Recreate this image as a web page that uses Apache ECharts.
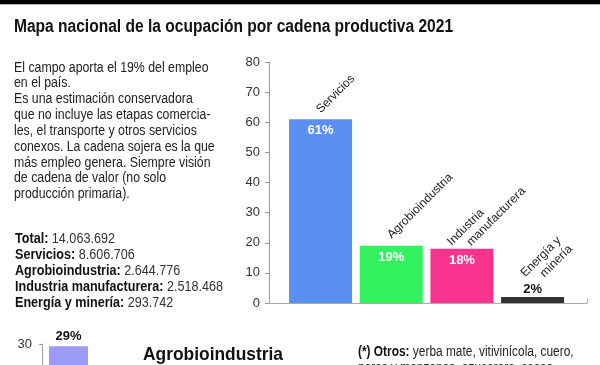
<!DOCTYPE html>
<html><head><meta charset="utf-8">
<script src="https://cdn.jsdelivr.net/npm/echarts@6/dist/echarts.min.js"></script>
<style>html,body{margin:0;padding:0;background:#fff}#c{width:600px;height:365px}</style>
</head><body><div id="c"></div>
<script>
// ---- data ----
const titleText = 'Mapa nacional de la ocupación por cadena productiva 2021';
const introLines = [
  'El campo aporta el 19% del empleo',
  'en el país.',
  'Es una estimación conservadora',
  'que no incluye las etapas comercia-',
  'les, el transporte y otros servicios',
  'conexos. La cadena sojera es la que',
  'más empleo genera. Siempre visión',
  'de cadena de valor (no solo',
  'producción primaria).'
];
const statLabels = ['Total', 'Servicios', 'Agrobioindustria', 'Industria manufacturera', 'Energía y minería'];
const statValues = [14063692, 8606706, 2644776, 2518468, 293742];
const categories = ['Servicios', 'Agrobioindustria', 'Industria manufacturera', 'Energía y minería'];
const categoryLabels = ['Servicios', 'Agrobioindustria', 'Industria\n    manufacturera', 'Energía y\n    minería'];
const shares = [61, 19, 18, 2];
const yMin = 0, yMax = 80, yStep = 10;
const agroTitle = 'Agrobioindustria';
const agroShares = [29];
const agroYMax = 30;
const noteLead = '(*) Otros:';
const noteLines = ['yerba mate, vitivinícola, cuero,', 'peras y manzanas, azucarera, cacao,'];

// ---- styles ----
const barColors = ['#5b8ff3', '#34f25f', '#f8348f', '#333333'];
const agroColor = '#9b9bf6';
const SANS = "'Liberation Sans', Arial, sans-serif";
const nameOffsets = [[4.1, -0.2], [5.1, -0.6], [-5.1, 8.5], [8.7, -1.4]];

function fmt(n) { return String(n).replace(/\B(?=(\d{3})+(?!\d))/g, '.'); }

const chart = echarts.init(document.getElementById('c'), null, { renderer: 'canvas' });

const option = {
  animation: false,
  backgroundColor: '#fff',
  grid: [
    { left: 269, right: 13, top: 62, bottom: 62 },
    { left: 42, width: 53, top: 344, bottom: -240 }
  ],
  xAxis: [
    { type: 'value', gridIndex: 0, min: -0.73, max: 3.77, interval: 4.5,
      axisLine: { show: true, onZero: false, lineStyle: { color: '#aaa', width: 1 } },
      axisTick: { show: true, inside: true, length: 4, lineStyle: { color: '#aaa' } },
      axisLabel: { show: false }, splitLine: { show: false } },
    { type: 'value', gridIndex: 1, min: -0.5, max: 0.5, show: false }
  ],
  yAxis: [
    { type: 'value', gridIndex: 0, min: yMin, max: yMax, interval: yStep,
      axisLine: { show: true, onZero: false, lineStyle: { color: '#999' } },
      axisTick: { show: true, length: 4, lineStyle: { color: '#999' } },
      axisLabel: { fontSize: 13, color: '#333', margin: 9, fontFamily: SANS },
      splitLine: { show: false } },
    { type: 'value', gridIndex: 1, min: 0, max: agroYMax, interval: agroYMax,
      axisLine: { show: true, onZero: false, lineStyle: { color: '#999' } },
      axisTick: { show: true, length: 3, lineStyle: { color: '#999' } },
      axisLabel: { fontSize: 13, color: '#333', margin: 10, fontFamily: SANS, showMinLabel: false },
      splitLine: { show: false } }
  ],
  series: [
    {
      type: 'bar', name: 'names', xAxisIndex: 0, yAxisIndex: 0, barWidth: 63, silent: true,
      itemStyle: { color: 'rgba(0,0,0,0)' },
      data: shares.map((v, i) => ({ value: [i, v], label: { offset: nameOffsets[i] } })),
      label: {
        show: true, position: 'top', distance: 0, rotate: 45, align: 'left', verticalAlign: 'bottom',
        fontSize: 12, lineHeight: 14, color: '#222', fontFamily: SANS,
        formatter: p => categoryLabels[p.dataIndex]
      },
      z: 1
    },
    {
      type: 'bar', name: 'share', xAxisIndex: 0, yAxisIndex: 0, barWidth: 63, barGap: '-100%',
      data: shares.map((v, i) => ({
        value: [i, v], name: categories[i], itemStyle: { color: barColors[i] },
        label: i === 3 ? { position: 'top', color: '#111', distance: 1 } : {}
      })),
      label: {
        show: true, position: 'insideTop', distance: 5, color: '#fff', fontWeight: 'bold',
        fontSize: 13, lineHeight: 13, fontFamily: SANS,
        formatter: p => p.value[1] + '%'
      },
      z: 2
    },
    {
      type: 'bar', name: 'agro', xAxisIndex: 1, yAxisIndex: 1, barWidth: 39,
      data: agroShares.map((v, i) => ({ value: [i, v], itemStyle: { color: agroColor } })),
      label: { show: true, position: 'top', distance: 3, color: '#111', fontWeight: 'bold', fontSize: 13, fontFamily: SANS,
        formatter: p => p.value[1] + '%' }
    }
  ],
  graphic: [
    { type: 'rect', shape: { x: 0, y: 0, width: 600, height: 4 }, style: { fill: '#000' }, silent: true },
    { type: 'rect', shape: { x: 0, y: 4, width: 600, height: 1 }, style: { fill: '#bbb' }, silent: true },
    { type: 'text', x: 14, y: 18.1, scaleX: 0.864, silent: true,
      style: { text: titleText, fontFamily: SANS, fontWeight: 'bold', fontSize: 18, lineHeight: 18,
        fill: '#111', verticalAlign: 'top', align: 'left' } },
    { type: 'text', x: 14, y: 59.8, scaleX: 0.88, silent: true,
      style: { text: introLines.join('\n'), fontFamily: SANS, fontSize: 14, lineHeight: 15.84,
        fill: '#222', verticalAlign: 'top', align: 'left' } },
    { type: 'text', x: 15, y: 231, scaleX: 0.9, silent: true,
      style: {
        text: statLabels.map((l, i) => '{b|' + l + ':} {r|' + fmt(statValues[i]) + '}').join('\n'),
        fontFamily: SANS, fontSize: 14, lineHeight: 16.1, verticalAlign: 'top', align: 'left', fill: '#222',
        rich: {
          b: { fontFamily: SANS, fontWeight: 'bold', fontSize: 14, lineHeight: 16.1, fill: '#111' },
          r: { fontFamily: SANS, fontSize: 14, lineHeight: 16.1, fill: '#333' }
        }
      } },
    { type: 'text', x: 143, y: 345, scaleX: 0.915, silent: true,
      style: { text: agroTitle, fontFamily: SANS, fontWeight: 'bold', fontSize: 19, lineHeight: 19,
        fill: '#111', verticalAlign: 'top', align: 'left' } },
    { type: 'text', x: 358, y: 343.7, scaleX: 0.85, silent: true,
      style: {
        text: '{b|' + noteLead + '} ' + noteLines.join('\n'),
        fontFamily: SANS, fontSize: 14, lineHeight: 16, fill: '#222', verticalAlign: 'top', align: 'left',
        rich: { b: { fontFamily: SANS, fontWeight: 'bold', fontSize: 14, lineHeight: 16, fill: '#111' } }
      } }
  ]
};
chart.setOption(option);
</script>
</body></html>
